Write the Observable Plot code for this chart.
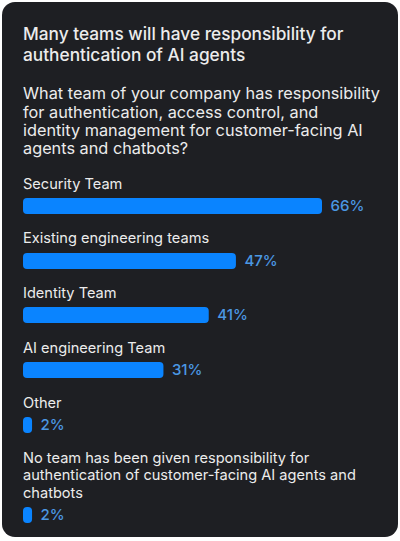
<!DOCTYPE html>
<html><head><meta charset="utf-8">
<script src="https://cdn.jsdelivr.net/npm/d3@7"></script>
<script src="https://cdn.jsdelivr.net/npm/@observablehq/plot@0.6"></script>
<style>
body{margin:0;background:#fff;font-family:Inter,"Noto Sans",sans-serif;}
#card{position:absolute;left:2px;top:2px;width:396px;height:535px;border-radius:13px;background:#1e1f23;box-sizing:border-box;padding:20.7px 8px 0 21px;color:#ececec;overflow:hidden;}
h1{font-size:17.3px;font-weight:500;line-height:21px;margin:0;white-space:nowrap;}
.sub{font-size:16.3px;line-height:18.3px;margin:19.8px 0 0 0;white-space:nowrap;}
.item{margin-top:14.7px;}
.item.first{margin-top:18px;}
.label{font-size:14.6px;line-height:17.5px;}
.bar{margin-top:2.6px;}
</style></head>
<body>
<div id="card">
<h1 id="title"></h1>
<div class="sub" id="subtitle"></div>
<div id="items"></div>
</div>
<script>
const titleLines = ["Many teams will have responsibility for", "authentication of AI agents"];
const subtitleLines = [
  "What team of your company has responsibility",
  "for authentication, access control, and",
  "identity management for customer-facing AI",
  "agents and chatbots?"
];
const categories = [
  "Security Team",
  "Existing engineering teams",
  "Identity Team",
  "AI engineering Team",
  "Other",
  "No team has been given responsibility for authentication of customer-facing AI agents and chatbots"
];
const values = [66, 47, 41, 31, 2, 2];

function fillLines(el, lines) {
  lines.forEach((l, i) => {
    if (i) el.appendChild(document.createElement("br"));
    el.appendChild(document.createTextNode(l));
  });
}
fillLines(document.getElementById("title"), titleLines);
fillLines(document.getElementById("subtitle"), subtitleLines);

const data = categories.map((c, i) => ({category: c, value: values[i]}));
const items = document.getElementById("items");
data.forEach((d, i) => {
  const wrap = document.createElement("div");
  wrap.className = "item" + (i === 0 ? " first" : "");
  const lab = document.createElement("div");
  lab.className = "label";
  lab.textContent = d.category;
  lab.style.maxWidth = "350px";
  wrap.appendChild(lab);
  const chart = Plot.plot({
    width: 363,
    height: 20,
    marginTop: 2,
    marginBottom: 2,
    marginLeft: 0,
    marginRight: 0,
    style: {background: "transparent", overflow: "visible", fontFamily: "Inter, sans-serif"},
    x: {domain: [0, 66], range: [0, 299], axis: null},
    marks: [
      Plot.barX([d], {x: "value", fill: "#0a84ff", rx: 4}),
      Plot.text([d], {x: "value", text: v => v.value + "%", dx: 8, textAnchor: "start", fill: "#4b98e3", fontSize: 15, fontWeight: 500})
    ]
  });
  chart.classList.add("bar");
  wrap.appendChild(chart);
  items.appendChild(wrap);
});
</script>
</body></html>
